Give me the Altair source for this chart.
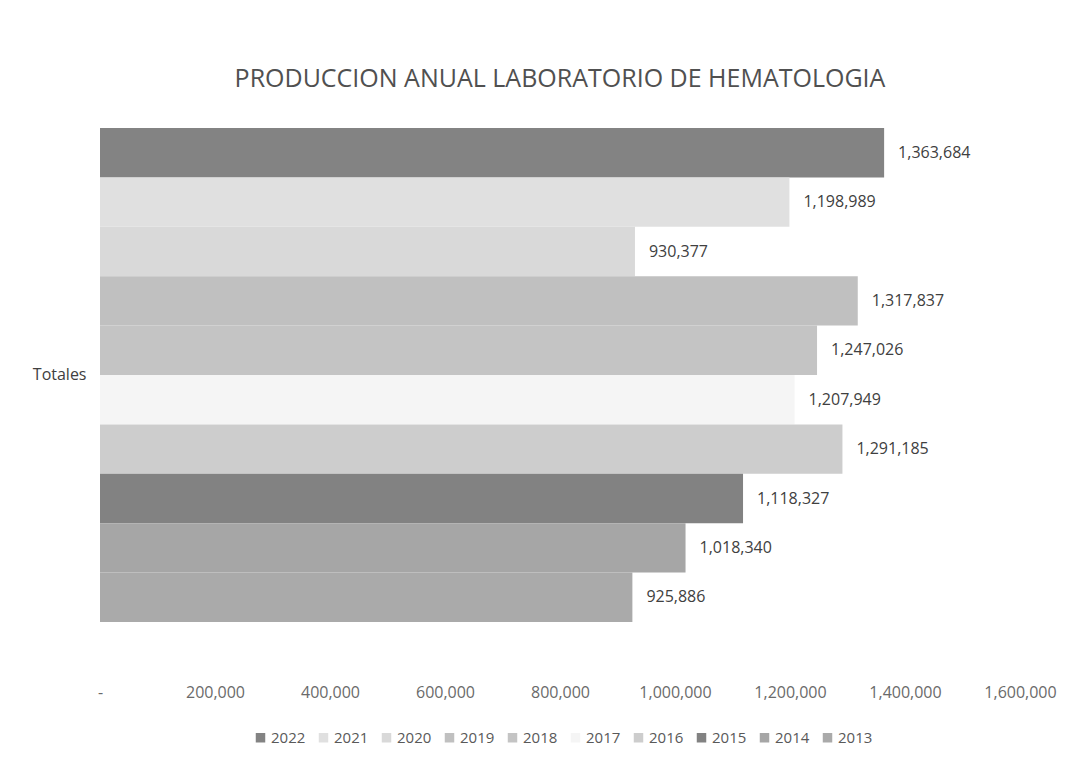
import altair as alt
import pandas as pd

years = ["2022", "2021", "2020", "2019", "2018", "2017", "2016", "2015", "2014", "2013"]
values = [1363684, 1198989, 930377, 1317837, 1247026, 1207949, 1291185, 1118327, 1018340, 925886]
colors = ["#838383", "#e0e0e0", "#d9d9d9", "#c0c0c0", "#c4c4c4", "#f5f5f5",
          "#cdcdcd", "#828282", "#a6a6a6", "#aaaaaa"]
category = "Totales"
ticks = [0, 200000, 400000, 600000, 800000, 1000000, 1200000, 1400000, 1600000]

df = pd.DataFrame({"cat": [category] * len(years), "year": years, "value": values})

FONT = "Open Sans"

y_enc = alt.Y("cat:N", title=None,
              scale=alt.Scale(paddingInner=0, paddingOuter=0),
              axis=alt.Axis(ticks=False, domain=False, labelPadding=14,
                            labelFontSize=16, labelColor="#404040", labelFont=FONT))
yoff = alt.YOffset("year:N", sort=years,
                   scale=alt.Scale(domain=years, paddingInner=0, paddingOuter=0))
x_enc = alt.X("value:Q", title=None,
              scale=alt.Scale(domain=[0, 1600000], nice=False),
              axis=alt.Axis(values=ticks, grid=False, domain=False, ticks=False,
                            labelPadding=62, labelFontSize=16, labelColor="#6a6a6a",
                            labelFont=FONT, labelFlush=False,
                            labelExpr="datum.value == 0 ? '-' : format(datum.value, ',')"))

bars = alt.Chart(df).mark_bar().encode(
    y=y_enc,
    yOffset=yoff,
    x=x_enc,
    color=alt.Color("year:N",
                    scale=alt.Scale(domain=years, range=colors),
                    legend=alt.Legend(title=None, orient="none", legendX=153, legendY=602,
                                      direction="horizontal", columns=10,
                                      symbolType="square", symbolSize=90,
                                      symbolStrokeWidth=0, labelFontSize=15,
                                      labelColor="#595959", labelFont=FONT,
                                      columnPadding=10, labelOffset=3)),
)

labels = alt.Chart(df).mark_text(align="left", baseline="middle", dx=14,
                                 fontSize=16, font=FONT, color="#404040").encode(
    y=alt.Y("cat:N", title=None),
    yOffset=yoff,
    x=alt.X("value:Q"),
    text=alt.Text("value:Q", format=","),
)

chart = alt.layer(bars, labels).properties(
    width=920, height=494,
    background="white",
    title=alt.TitleParams("PRODUCCION ANUAL LABORATORIO DE HEMATOLOGIA",
                          fontSize=25, font=FONT, fontWeight="normal",
                          color="#505050", anchor="middle", offset=36),
    autosize=alt.AutoSizeParams(type="none"),
    padding={"left": 92, "top": 120, "right": 56, "bottom": 125},
).configure_view(strokeWidth=0, stroke=None)

chart.save("out.html", embed_options={"renderer": "svg", "actions": False})
